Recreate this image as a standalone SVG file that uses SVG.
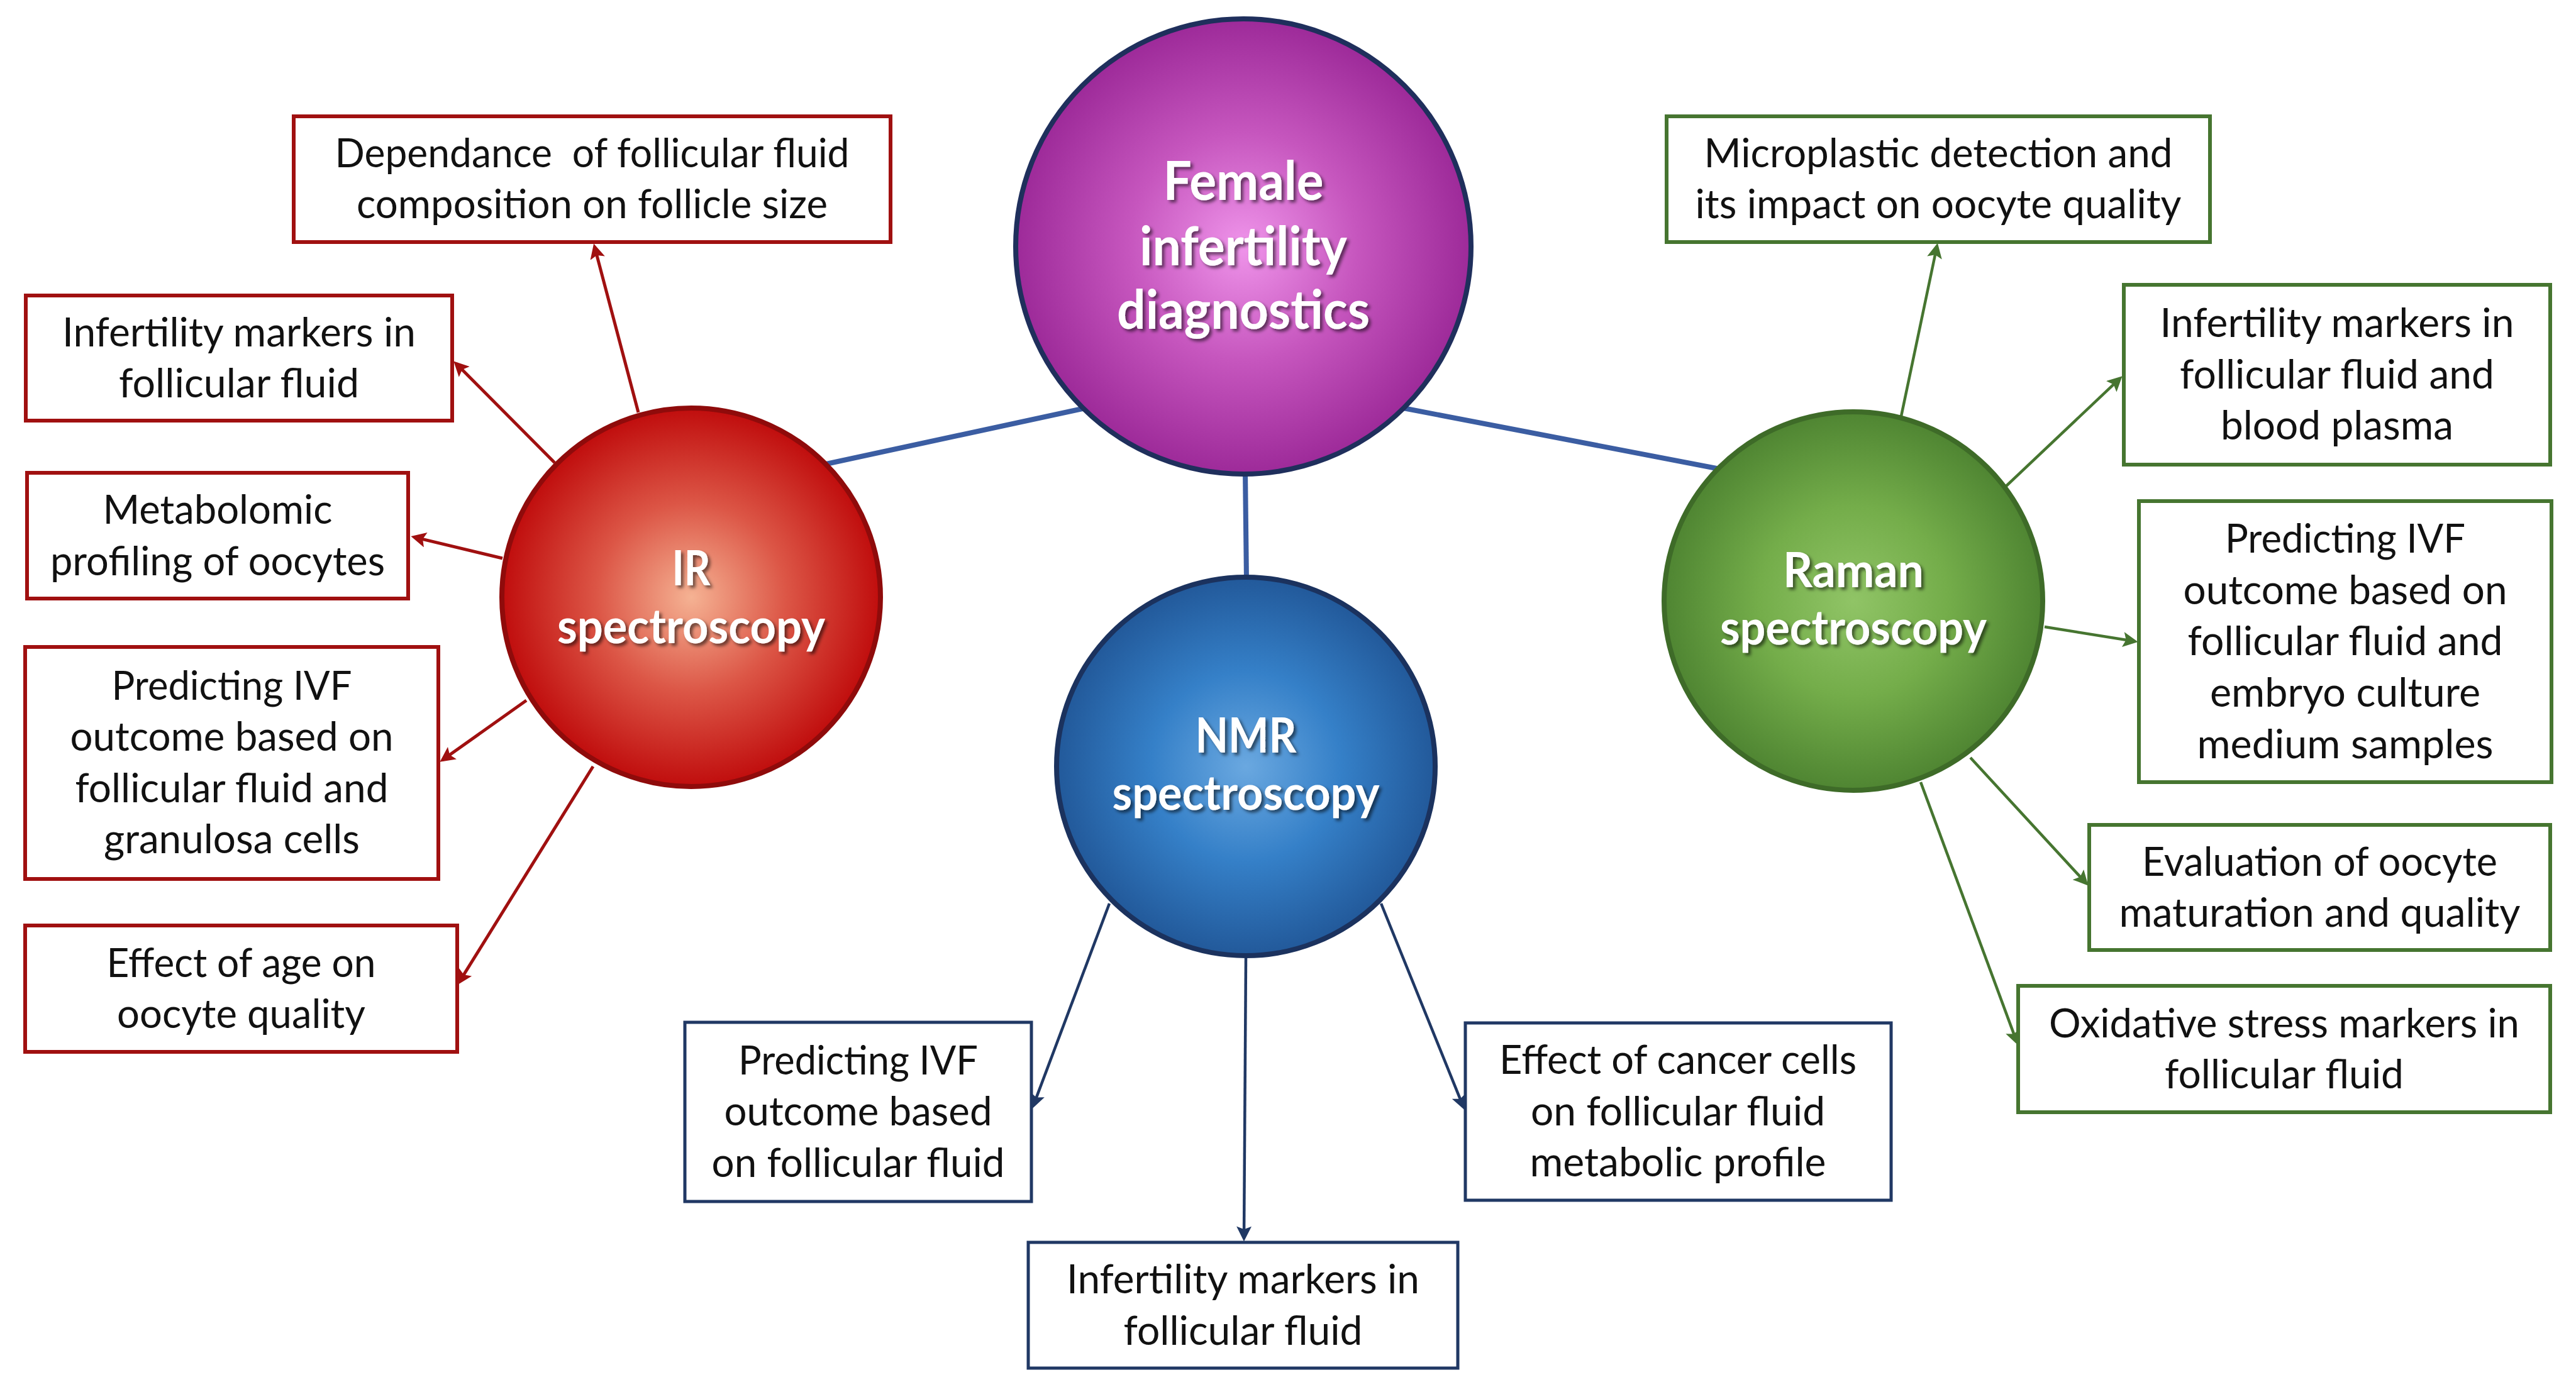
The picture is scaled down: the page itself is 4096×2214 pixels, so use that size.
<svg xmlns="http://www.w3.org/2000/svg" width="4096" height="2214" viewBox="0 0 4096 2214">
<style>
.box{fill:#ffffff;stroke-width:6}
.red .box{stroke:#a01010}
.navy .box{stroke:#203864;stroke-width:5}
.green .box{stroke:#467530}
.bt{font-family:Lato,"Open Sans","Liberation Sans",sans-serif;font-size:64px;fill:#111111;text-anchor:middle}
.ct{font-family:Lato,"Open Sans","Liberation Sans",sans-serif;font-weight:bold;fill:#ffffff;text-anchor:middle;filter:url(#shadow)}
.c1{font-size:86px}
.c2{font-size:76px}
.hub{stroke:#3b5da2;stroke-width:8;fill:none}
.ar{fill:none;stroke-width:5}
.ar.r{stroke:#a01010;marker-end:url(#mr)}
.ar.n{stroke:#203864;stroke-width:4.5;marker-end:url(#mn)}
.ar.g{stroke:#467530;stroke-width:4.5;marker-end:url(#mg)}
</style>
<defs>
<radialGradient id="gC" cx="0.5" cy="0.5" r="0.5">
<stop offset="0" stop-color="#ef94ea"/><stop offset="0.5" stop-color="#c656be"/><stop offset="1" stop-color="#9d2a99"/>
</radialGradient>
<radialGradient id="gIR" cx="0.5" cy="0.5" r="0.5">
<stop offset="0" stop-color="#f5b293"/><stop offset="0.5" stop-color="#dc5646"/><stop offset="1" stop-color="#c00d0d"/>
</radialGradient>
<radialGradient id="gN" cx="0.5" cy="0.5" r="0.5">
<stop offset="0" stop-color="#6aa8e0"/><stop offset="0.5" stop-color="#3580c8"/><stop offset="1" stop-color="#22599a"/>
</radialGradient>
<radialGradient id="gR" cx="0.5" cy="0.5" r="0.5">
<stop offset="0" stop-color="#90c466"/><stop offset="0.5" stop-color="#74ad4a"/><stop offset="1" stop-color="#4f8532"/>
</radialGradient>
<filter id="shadow" x="-10%" y="-20%" width="130%" height="150%">
<feDropShadow dx="4" dy="4" stdDeviation="2.5" flood-color="#000000" flood-opacity="0.55"/>
</filter>
<marker id="mr" viewBox="0 0 10 10" markerUnits="userSpaceOnUse" markerWidth="28" markerHeight="24" refX="7.7" refY="5" orient="auto"><path d="M0,0 L10,5 L0,10 L2,5 z" fill="#a01010"/></marker>
<marker id="mn" viewBox="0 0 10 10" markerUnits="userSpaceOnUse" markerWidth="28" markerHeight="24" refX="7.7" refY="5" orient="auto"><path d="M0,0 L10,5 L0,10 L2,5 z" fill="#203864"/></marker>
<marker id="mg" viewBox="0 0 10 10" markerUnits="userSpaceOnUse" markerWidth="28" markerHeight="24" refX="7.7" refY="5" orient="auto"><path d="M0,0 L10,5 L0,10 L2,5 z" fill="#467530"/></marker>
</defs>
<rect x="0" y="0" width="4096" height="2214" fill="#ffffff"/>

<g id="connectors">
<line class="hub" x1="1309" y1="739" x2="1726" y2="649"/>
<line class="hub" x1="2231" y1="649" x2="2740" y2="747"/>
<line class="hub" x1="1980" y1="750" x2="1982" y2="925"/>
<line class="ar r" x1="1015" y1="656" x2="945.5" y2="392.8"/>
<line class="ar r" x1="882" y1="736" x2="725.2" y2="578.3"/>
<line class="ar r" x1="799" y1="888" x2="658.8" y2="854.4"/>
<line class="ar r" x1="837" y1="1114" x2="703.9" y2="1208.5"/>
<line class="ar r" x1="943" y1="1219" x2="730.2" y2="1561.9"/>
<line class="ar n" x1="1764" y1="1437" x2="1643.1" y2="1758.4"/>
<line class="ar n" x1="1981" y1="1524" x2="1978" y2="1969"/>
<line class="ar n" x1="2196" y1="1437" x2="2326.8" y2="1760.4"/>
<line class="ar g" x1="3023" y1="662" x2="3079.8" y2="391.9"/>
<line class="ar g" x1="3190" y1="773" x2="3370.6" y2="602.1"/>
<line class="ar g" x1="3251" y1="997" x2="3394.1" y2="1020"/>
<line class="ar g" x1="3133" y1="1205" x2="3316.9" y2="1404.6"/>
<line class="ar g" x1="3054" y1="1244" x2="3206.9" y2="1657.4"/>
</g>

<g id="node-center">
<circle cx="1977" cy="392" r="362" fill="url(#gC)" stroke="#1f2f5c" stroke-width="8"/>
<text class="ct c1" x="1977" y="318" textLength="255" lengthAdjust="spacingAndGlyphs">Female</text>
<text class="ct c1" x="1977" y="422" textLength="330" lengthAdjust="spacingAndGlyphs">infertility</text>
<text class="ct c1" x="1977" y="523" textLength="402" lengthAdjust="spacingAndGlyphs">diagnostics</text>
</g>

<g id="node-ir">
<circle cx="1099" cy="950" r="301" fill="url(#gIR)" stroke="#8f0b0b" stroke-width="8"/>
<text class="ct c2" x="1099" y="931" textLength="61" lengthAdjust="spacingAndGlyphs">IR</text>
<text class="ct c2" x="1099" y="1023" textLength="426" lengthAdjust="spacingAndGlyphs">spectroscopy</text>
</g>

<g id="node-nmr">
<circle cx="1981" cy="1219" r="301" fill="url(#gN)" stroke="#1b325e" stroke-width="8"/>
<text class="ct c2" x="1981" y="1197" textLength="161" lengthAdjust="spacingAndGlyphs">NMR</text>
<text class="ct c2" x="1981" y="1288" textLength="425" lengthAdjust="spacingAndGlyphs">spectroscopy</text>
</g>

<g id="node-raman">
<circle cx="2947" cy="956" r="301" fill="url(#gR)" stroke="#3e6b28" stroke-width="8"/>
<text class="ct c2" x="2947" y="934" textLength="224" lengthAdjust="spacingAndGlyphs">Raman</text>
<text class="ct c2" x="2947" y="1025" textLength="424" lengthAdjust="spacingAndGlyphs">spectroscopy</text>
</g>

<g id="ir-1" class="red">
<rect class="box" x="467" y="185" width="949" height="200"/>
<text class="bt" x="941.5" y="266" textLength="818" lengthAdjust="spacingAndGlyphs" xml:space="preserve">Dependance  of follicular fluid</text>
<text class="bt" x="941.5" y="347" textLength="749" lengthAdjust="spacingAndGlyphs">composition on follicle size</text>
</g>
<g id="ir-2" class="red">
<rect class="box" x="41" y="470" width="678" height="199"/>
<text class="bt" x="380" y="551" textLength="562" lengthAdjust="spacingAndGlyphs">Infertility markers in</text>
<text class="bt" x="380" y="632" textLength="382" lengthAdjust="spacingAndGlyphs">follicular fluid</text>
</g>
<g id="ir-3" class="red">
<rect class="box" x="43" y="752" width="606" height="200"/>
<text class="bt" x="346" y="833" textLength="365" lengthAdjust="spacingAndGlyphs">Metabolomic</text>
<text class="bt" x="346" y="915" textLength="532" lengthAdjust="spacingAndGlyphs">profiling of oocytes</text>
</g>
<g id="ir-4" class="red">
<rect class="box" x="40" y="1029" width="657" height="369"/>
<text class="bt" x="368.5" y="1113" textLength="382" lengthAdjust="spacingAndGlyphs">Predicting IVF</text>
<text class="bt" x="368.5" y="1194" textLength="514" lengthAdjust="spacingAndGlyphs">outcome based on</text>
<text class="bt" x="368.5" y="1276" textLength="498" lengthAdjust="spacingAndGlyphs">follicular fluid and</text>
<text class="bt" x="368.5" y="1357" textLength="407" lengthAdjust="spacingAndGlyphs">granulosa cells</text>
</g>
<g id="ir-5" class="red">
<rect class="box" x="40" y="1472" width="687" height="201"/>
<text class="bt" x="383.5" y="1554" textLength="428" lengthAdjust="spacingAndGlyphs">Effect of age on</text>
<text class="bt" x="383.5" y="1635" textLength="395" lengthAdjust="spacingAndGlyphs">oocyte quality</text>
</g>

<g id="nmr-1" class="navy">
<rect class="box" x="1089" y="1626" width="551" height="285"/>
<text class="bt" x="1364.5" y="1709" textLength="381" lengthAdjust="spacingAndGlyphs">Predicting IVF</text>
<text class="bt" x="1364.5" y="1790" textLength="426" lengthAdjust="spacingAndGlyphs">outcome based</text>
<text class="bt" x="1364.5" y="1872" textLength="466" lengthAdjust="spacingAndGlyphs">on follicular fluid</text>
</g>
<g id="nmr-2" class="navy">
<rect class="box" x="1635" y="1976" width="683" height="200"/>
<text class="bt" x="1976.5" y="2057" textLength="561" lengthAdjust="spacingAndGlyphs">Infertility markers in</text>
<text class="bt" x="1976.5" y="2139" textLength="380" lengthAdjust="spacingAndGlyphs">follicular fluid</text>
</g>
<g id="nmr-3" class="navy">
<rect class="box" x="2330" y="1627" width="677" height="282"/>
<text class="bt" x="2668" y="1708" textLength="568" lengthAdjust="spacingAndGlyphs">Effect of cancer cells</text>
<text class="bt" x="2668" y="1790" textLength="468" lengthAdjust="spacingAndGlyphs">on follicular fluid</text>
<text class="bt" x="2668" y="1871" textLength="471" lengthAdjust="spacingAndGlyphs">metabolic profile</text>
</g>

<g id="raman-1" class="green">
<rect class="box" x="2650" y="185" width="864" height="200"/>
<text class="bt" x="3082" y="266" textLength="745" lengthAdjust="spacingAndGlyphs">Microplastic detection and</text>
<text class="bt" x="3082" y="347" textLength="773" lengthAdjust="spacingAndGlyphs">its impact on oocyte quality</text>
</g>
<g id="raman-2" class="green">
<rect class="box" x="3377" y="453" width="678" height="286"/>
<text class="bt" x="3716" y="536" textLength="563" lengthAdjust="spacingAndGlyphs">Infertility markers in</text>
<text class="bt" x="3716" y="618" textLength="500" lengthAdjust="spacingAndGlyphs">follicular fluid and</text>
<text class="bt" x="3716" y="699" textLength="370" lengthAdjust="spacingAndGlyphs">blood plasma</text>
</g>
<g id="raman-3" class="green">
<rect class="box" x="3401" y="797" width="656" height="447"/>
<text class="bt" x="3729" y="879" textLength="382" lengthAdjust="spacingAndGlyphs">Predicting IVF</text>
<text class="bt" x="3729" y="961" textLength="515" lengthAdjust="spacingAndGlyphs">outcome based on</text>
<text class="bt" x="3729" y="1042" textLength="501" lengthAdjust="spacingAndGlyphs">follicular fluid and</text>
<text class="bt" x="3729" y="1124" textLength="430" lengthAdjust="spacingAndGlyphs">embryo culture</text>
<text class="bt" x="3729" y="1206" textLength="471" lengthAdjust="spacingAndGlyphs">medium samples</text>
</g>
<g id="raman-4" class="green">
<rect class="box" x="3322" y="1312" width="733" height="199"/>
<text class="bt" x="3688.5" y="1393" textLength="565" lengthAdjust="spacingAndGlyphs">Evaluation of oocyte</text>
<text class="bt" x="3688.5" y="1474" textLength="638" lengthAdjust="spacingAndGlyphs">maturation and quality</text>
</g>
<g id="raman-5" class="green">
<rect class="box" x="3209" y="1568" width="846" height="201"/>
<text class="bt" x="3632" y="1650" textLength="748" lengthAdjust="spacingAndGlyphs">Oxidative stress markers in</text>
<text class="bt" x="3632" y="1731" textLength="380" lengthAdjust="spacingAndGlyphs">follicular fluid</text>
</g>
</svg>
